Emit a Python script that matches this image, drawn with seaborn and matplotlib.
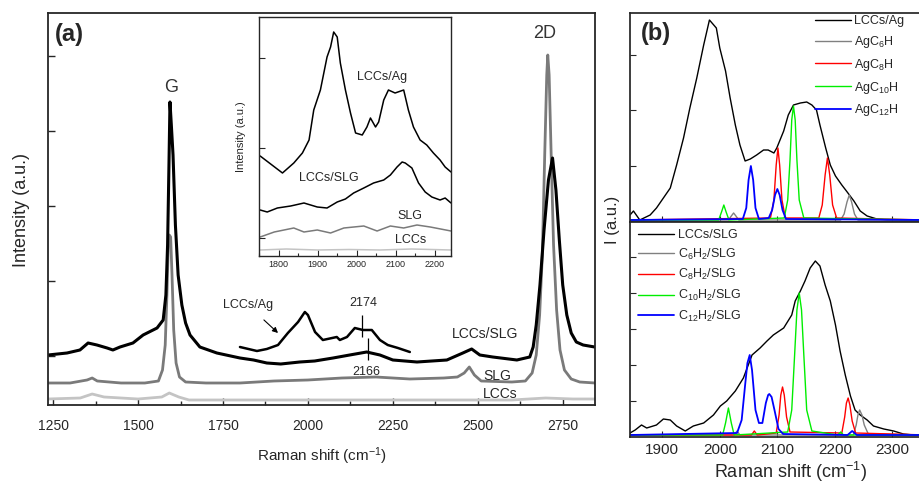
import matplotlib
matplotlib.use("Agg")
import matplotlib.pyplot as plt
import seaborn as sns

# ---------------- panel (a), main spectra (y in arbitrary units) ----------------
slg_lccs_x = [1235, 1291, 1329, 1353, 1379, 1409, 1426, 1447, 1485, 1515, 1556, 1574, 1582, 1587, 1591,
              1594, 1598, 1603, 1610, 1618, 1629, 1640, 1653, 1682, 1732, 1800, 1840, 1879, 1920, 1976,
              2020, 2074, 2123, 2173, 2212, 2250, 2321, 2409, 2456, 2482, 2506, 2544, 2615, 2653, 2663,
              2672, 2683, 2695, 2708, 2720, 2730, 2740, 2750, 2762, 2775, 2790, 2810, 2844]
slg_lccs_y = [50, 52, 55, 62, 60, 57, 55, 58, 62, 70, 77, 85, 110, 160, 240,
              303, 280, 250, 180, 130, 100, 82, 70, 58, 52, 47, 45, 42, 41, 43,
              44, 47, 50, 53, 50, 45, 43, 45, 52, 56, 50, 48, 45, 48, 58,
              80, 120, 175, 225, 247, 215, 165, 120, 90, 72, 63, 60, 58]

slg_x = [1235, 1300, 1350, 1365, 1380, 1450, 1520, 1560, 1572, 1580, 1585, 1589, 1592, 1596, 1600,
         1605, 1612, 1622, 1640, 1700, 1800, 1900, 2000, 2100, 2200, 2300, 2400, 2440, 2460, 2475,
         2490, 2510, 2600, 2640, 2660, 2672, 2682, 2690, 2697, 2703, 2706, 2710, 2716, 2723, 2732,
         2742, 2755, 2775, 2800, 2845]
slg_y = [22, 22, 25, 27, 24, 22, 22, 24, 35, 60, 110, 160, 170, 168, 130,
         75, 42, 28, 23, 22, 22, 24, 25, 27, 28, 26, 27, 28, 32, 38,
         30, 24, 23, 24, 32, 50, 90, 150, 250, 330, 350, 330, 250, 160, 95,
         55, 35, 26, 23, 22]

lccs_x = [1235, 1330, 1365, 1400, 1500, 1570, 1592, 1620, 1650, 1800, 2200, 2600, 2650, 2700, 2780, 2845]
lccs_y = [6, 7, 11, 8, 6, 8, 12, 8, 5, 5, 5, 5, 6, 7, 6, 6]

ag_x = [1800, 1850, 1879, 1912, 1941, 1971, 1991, 2000, 2021, 2044, 2085, 2094, 2115, 2138, 2162,
        2188, 2212, 2235, 2265, 2300]
ag_y = [58, 54, 56, 60, 72, 83, 93, 90, 73, 65, 68, 65, 68, 77, 75,
        75, 65, 60, 57, 53]

# ---------------- inset ----------------
in_ag_x = [1753, 1810, 1839, 1861, 1878, 1890, 1907, 1924, 1933, 1941, 1950, 1958, 1971, 1984, 1997,
           2014, 2026, 2035, 2048, 2056, 2069, 2081, 2098, 2120, 2132, 2145, 2162, 2179, 2196, 2213,
           2226, 2241]
in_ag_y = [100, 83, 93, 103, 116, 146, 166, 199, 209, 224, 219, 193, 166, 143, 123,
           121, 129, 138, 129, 134, 156, 166, 163, 166, 146, 129, 116, 111, 103, 96,
           89, 84]
in_slg_lccs_x = [1753, 1771, 1797, 1831, 1865, 1899, 1924, 1950, 1971, 1992, 2018, 2043, 2069, 2086, 2103,
                 2116, 2124, 2141, 2158, 2175, 2192, 2213, 2226, 2241]
in_slg_lccs_y = [46, 44, 48, 50, 53, 49, 48, 54, 57, 63, 68, 73, 76, 81, 89,
                 94, 93, 88, 73, 64, 59, 56, 58, 53]
in_slg_x = [1753, 1789, 1839, 1865, 1899, 1933, 1967, 2018, 2052, 2086, 2120, 2154, 2188, 2241]
in_slg_y = [19, 24, 28, 24, 26, 23, 28, 30, 25, 30, 28, 31, 29, 25]
in_lccs_x = [1753, 1820, 1900, 1980, 2060, 2140, 2241]
in_lccs_y = [6, 7, 6, 6.5, 6, 7, 6]

# ---------------- panel (b), top: LCCs/Ag and AgCnH ----------------
bt_black_x = [1844, 1850, 1861, 1879, 1890, 1902, 1914, 1925, 1937, 1948, 1960, 1972, 1982, 1994, 2000,
              2010, 2018, 2027, 2035, 2044, 2053, 2064, 2076, 2084, 2094, 2099, 2111, 2119, 2128, 2140,
              2151, 2160, 2168, 2174, 2184, 2192, 2201, 2212, 2220, 2233, 2244, 2256, 2273, 2291, 2360]
bt_black_y = [5, 9, 0, 5, 12, 22, 32, 55, 82, 112, 142, 175, 200, 192, 172,
              149, 122, 95, 75, 59, 61, 65, 70, 70, 67, 72, 89, 105, 115, 117,
              118, 115, 110, 95, 72, 55, 44, 35, 29, 19, 9, 4, 1, 0, 0]
bt_c6_x = [1844, 2015, 2020, 2024, 2028, 2033, 2210, 2216, 2221, 2225, 2229, 2234, 2240, 2360]
bt_c6_y = [0, 0, 4, 7, 4, 0, 0, 6, 18, 25, 18, 6, 0, 0]
bt_c8_x = [1844, 2088, 2094, 2098, 2101, 2104, 2108, 2114, 2172, 2178, 2183, 2187, 2191, 2196, 2203, 2360]
bt_c8_y = [0, 2, 20, 55, 72, 55, 20, 2, 2, 15, 45, 62, 45, 15, 2, 0]
bt_c10_x = [1844, 1998, 2003, 2007, 2011, 2016, 2112, 2118, 2122, 2125, 2128, 2131, 2134, 2138, 2146, 2360]
bt_c10_y = [0, 0, 8, 15, 8, 0, 2, 20, 60, 100, 114, 100, 60, 20, 2, 0]
bt_c12_x = [1844, 2040, 2046, 2050, 2054, 2058, 2062, 2068, 2085, 2091, 2096, 2100, 2104, 2109, 2115, 2360]
bt_c12_y = [0, 1, 12, 40, 54, 40, 12, 1, 2, 10, 25, 31, 25, 10, 1, 0]

# ---------------- panel (b), bottom: LCCs/SLG and CnH2/SLG ----------------
bb_black_x = [1841, 1853, 1864, 1873, 1890, 1902, 1914, 1925, 1940, 1954, 1972, 1989, 2001, 2012, 2027,
              2041, 2056, 2070, 2082, 2093, 2111, 2125, 2131, 2140, 2148, 2157, 2166, 2174, 2183, 2192,
              2201, 2209, 2218, 2227, 2235, 2244, 2256, 2267, 2285, 2302, 2319, 2337, 2360]
bb_black_y = [1, 5, 10, 7, 10, 16, 15, 9, 4, 9, 12, 20, 29, 34, 44,
              57, 80, 87, 94, 100, 107, 120, 134, 144, 154, 167, 174, 169, 150, 134,
              110, 84, 60, 39, 25, 20, 15, 9, 6, 4, 1, 0, 0]
bb_c6_x = [1844, 2025, 2030, 2035, 2232, 2237, 2240, 2243, 2247, 2251, 2258, 2360]
bb_c6_y = [0, 0, 4, 0, 0, 10, 20, 25, 20, 10, 1, 0]
bb_c8_x = [1844, 2055, 2060, 2065, 2098, 2103, 2106, 2109, 2112, 2116, 2122, 2212, 2217, 2220, 2223,
           2226, 2230, 2236, 2360]
bb_c8_y = [0, 0, 4, 0, 2, 20, 40, 48, 40, 18, 3, 2, 18, 32, 37, 30, 14, 2, 0]
bb_c10_x = [1844, 2005, 2010, 2015, 2020, 2025, 2118, 2125, 2130, 2134, 2138, 2142, 2146, 2151, 2160,
            2205, 2210, 2215, 2360]
bb_c10_y = [0, 0, 12, 27, 12, 0, 3, 25, 80, 125, 142, 125, 80, 25, 4, 0, 3, 0, 0]
bb_c12_x = [1844, 2030, 2038, 2044, 2048, 2052, 2056, 2062, 2068, 2074, 2080, 2084, 2086, 2090, 2095,
            2102, 2110, 2222, 2230, 2238, 2360]
bb_c12_y = [0, 2, 15, 50, 72, 80, 65, 25, 12, 12, 32, 40, 41, 38, 25, 6, 1, 0, 4, 0, 0]

top_labels = ['LCCs/Ag', 'AgC$_6$H', 'AgC$_8$H', 'AgC$_{10}$H', 'AgC$_{12}$H']
bottom_labels = ['LCCs/SLG', 'C$_6$H$_2$/SLG', 'C$_8$H$_2$/SLG', 'C$_{10}$H$_2$/SLG', 'C$_{12}$H$_2$/SLG']
comp_colors = ['black', '#808080', '#ff0000', '#00ee00', '#0000ff']

sns.set_theme(style="ticks")
plt.rcParams['font.family'] = ['Liberation Sans', 'DejaVu Sans']
plt.rcParams['mathtext.fontset'] = 'custom'
plt.rcParams['mathtext.rm'] = 'Liberation Sans'
plt.rcParams['mathtext.it'] = 'Liberation Sans'
plt.rcParams['xtick.direction'] = 'in'
plt.rcParams['ytick.direction'] = 'in'


def trace(ax, xs, ys, color, lw, label=None):
    sns.lineplot(x=xs, y=ys, ax=ax, color=color, linewidth=lw, label=label,
                 legend=False, sort=False, estimator=None)


W, H = 919, 487
fig = plt.figure(figsize=(W / 100, H / 100), dpi=100)


def box(l, t, r, b):
    return [l / W, 1 - b / H, (r - l) / W, (b - t) / H]


# ---- panel (a)
ax = fig.add_axes(box(48, 13, 595, 405))
trace(ax, lccs_x, lccs_y, '#c4c4c4', 2.0)
trace(ax, slg_x, slg_y, '#7a7a7a', 2.0)
trace(ax, slg_lccs_x, slg_lccs_y, 'black', 2.2)
trace(ax, ag_x, ag_y, 'black', 1.8)
ax.set_xlim(1235, 2845)
ax.set_ylim(0, 392)
ax.set_xticks([1250, 1500, 1750, 2000, 2250, 2500, 2750])
ax.set_xticks([1375, 1625, 1875, 2125, 2375, 2625], minor=True)
ax.set_yticks([49, 124, 199, 274, 349])
ax.set_yticklabels([])
ax.tick_params(axis='x', labelsize=10, length=5, width=1, pad=10)
ax.tick_params(axis='x', which='minor', length=3, width=1)
ax.tick_params(axis='y', length=5, width=1)
for s in ax.spines.values():
    s.set_linewidth(1.3)
ax.set_xlabel('')
ax.set_ylabel('')
ax.text(0.012, 0.945, '(a)', transform=ax.transAxes, fontsize=17, fontweight='bold', va='center')
ax.text(1597, 318, 'G', fontsize=13, ha='center', va='center', color='#333333')
ax.text(2697, 372, '2D', fontsize=13, ha='center', va='center', color='#333333')
ax.annotate('LCCs/Ag', xy=(1912, 72), xytext=(1823, 100), fontsize=9, ha='center', va='center',
            arrowprops=dict(arrowstyle='-|>', color='black', lw=0.8, shrinkA=6, shrinkB=0,
                            mutation_scale=8))
ax.vlines([2159], 68, 90, color='black', lw=0.9)
ax.vlines([2176], 45, 67, color='black', lw=0.9)
ax.text(2162, 102, '2174', fontsize=9, ha='center', va='center')
ax.text(2172, 33, '2166', fontsize=9, ha='center', va='center')
ax.text(2520, 71, 'LCCs/SLG', fontsize=10, ha='center', va='center')
ax.text(2556, 29, 'SLG', fontsize=10, ha='center', va='center')
ax.text(2565, 11, 'LCCs', fontsize=10, ha='center', va='center')

fig.text(22 / W, 1 - 210 / H, 'Intensity (a.u.)', rotation=90, fontsize=13, ha='center', va='center')
fig.text(322 / W, 1 - 456 / H, 'Raman shift (cm$^{-1}$)', fontsize=11, ha='center', va='center')

# ---- inset
axi = fig.add_axes(box(259, 17, 451, 256))
trace(axi, in_lccs_x, in_lccs_y, '#c4c4c4', 1.1)
trace(axi, in_slg_x, in_slg_y, '#7a7a7a', 1.1)
trace(axi, in_slg_lccs_x, in_slg_lccs_y, 'black', 1.1)
trace(axi, in_ag_x, in_ag_y, 'black', 1.1)
axi.set_xlim(1752, 2241)
axi.set_ylim(0, 239)
axi.set_xticks([1800, 1900, 2000, 2100, 2200])
axi.set_xticks([1750, 1850, 1950, 2050, 2150], minor=True)
axi.set_yticks([18, 108, 198])
axi.set_yticklabels([])
axi.tick_params(axis='x', labelsize=6.5, length=4, width=0.8, pad=3)
axi.tick_params(axis='x', which='minor', length=2.5, width=0.8)
axi.tick_params(axis='y', length=4, width=0.8)
for s in axi.spines.values():
    s.set_linewidth(1.0)
axi.set_xlabel('')
axi.set_ylabel('Intensity (a.u.)', fontsize=8, labelpad=6)
axi.text(2065, 179, 'LCCs/Ag', fontsize=9, ha='center', va='center')
axi.text(1928, 78, 'LCCs/SLG', fontsize=9, ha='center', va='center')
axi.text(2137, 40, 'SLG', fontsize=9, ha='center', va='center')
axi.text(2137, 16, 'LCCs', fontsize=9, ha='center', va='center')

# ---- panel (b), top
axt = fig.add_axes(box(630, 13, 927, 222))
top_x = [bt_black_x, bt_c6_x, bt_c8_x, bt_c10_x, bt_c12_x]
top_y = [bt_black_y, bt_c6_y, bt_c8_y, bt_c10_y, bt_c12_y]
for xs, ys, c, lab in zip(top_x, top_y, comp_colors, top_labels):
    trace(axt, xs, ys, c, 1.0 if c != '#0000ff' else 1.3, lab)
axt.set_xlim(1844, 2360)
axt.set_ylim(-2, 207)
axt.set_xticks([1900, 2000, 2100, 2200, 2300])
axt.set_xticklabels([])
axt.set_yticks([54, 110, 165])
axt.set_yticklabels([])
axt.tick_params(length=4, width=0.8)
axt.set_xlabel('')
axt.set_ylabel('')
axt.text(0.035, 0.9, '(b)', transform=axt.transAxes, fontsize=17, fontweight='bold', va='center')
axt.legend(loc='upper left', bbox_to_anchor=(815 / W, 1 - 15 / H), bbox_transform=fig.transFigure,
           frameon=False, fontsize=9, handlelength=2.9, handletextpad=0.2, labelspacing=0.55,
           borderpad=0, borderaxespad=0)

# ---- panel (b), bottom
axb = fig.add_axes(box(630, 222, 927, 437))
bot_x = [bb_black_x, bb_c6_x, bb_c8_x, bb_c10_x, bb_c12_x]
bot_y = [bb_black_y, bb_c6_y, bb_c8_y, bb_c10_y, bb_c12_y]
for xs, ys, c, lab in zip(bot_x, bot_y, comp_colors, bottom_labels):
    trace(axb, xs, ys, c, 1.0 if c != '#0000ff' else 1.3, lab)
axb.set_xlim(1844, 2360)
axb.set_ylim(-2, 213)
axb.set_xticks([1900, 2000, 2100, 2200, 2300])
axb.set_yticks([34, 70, 106, 142, 178])
axb.set_yticklabels([])
axb.tick_params(axis='x', labelsize=11, length=4, width=0.8, pad=4)
axb.tick_params(axis='y', length=4, width=0.8)
axb.set_xlabel('')
axb.set_ylabel('')
axb.legend(loc='upper left', bbox_to_anchor=(638 / W, 1 - 229 / H), bbox_transform=fig.transFigure,
           frameon=False, fontsize=9, handlelength=2.9, handletextpad=0.3, labelspacing=0.45,
           borderpad=0, borderaxespad=0)

fig.text(612 / W, 1 - 220 / H, 'I (a.u.)', rotation=90, fontsize=12, ha='center', va='center')
fig.text(790 / W, 1 - 472 / H, 'Raman shift (cm$^{-1}$)', fontsize=13, ha='center', va='center')

fig.savefig('out.png', dpi=100, facecolor='white')
